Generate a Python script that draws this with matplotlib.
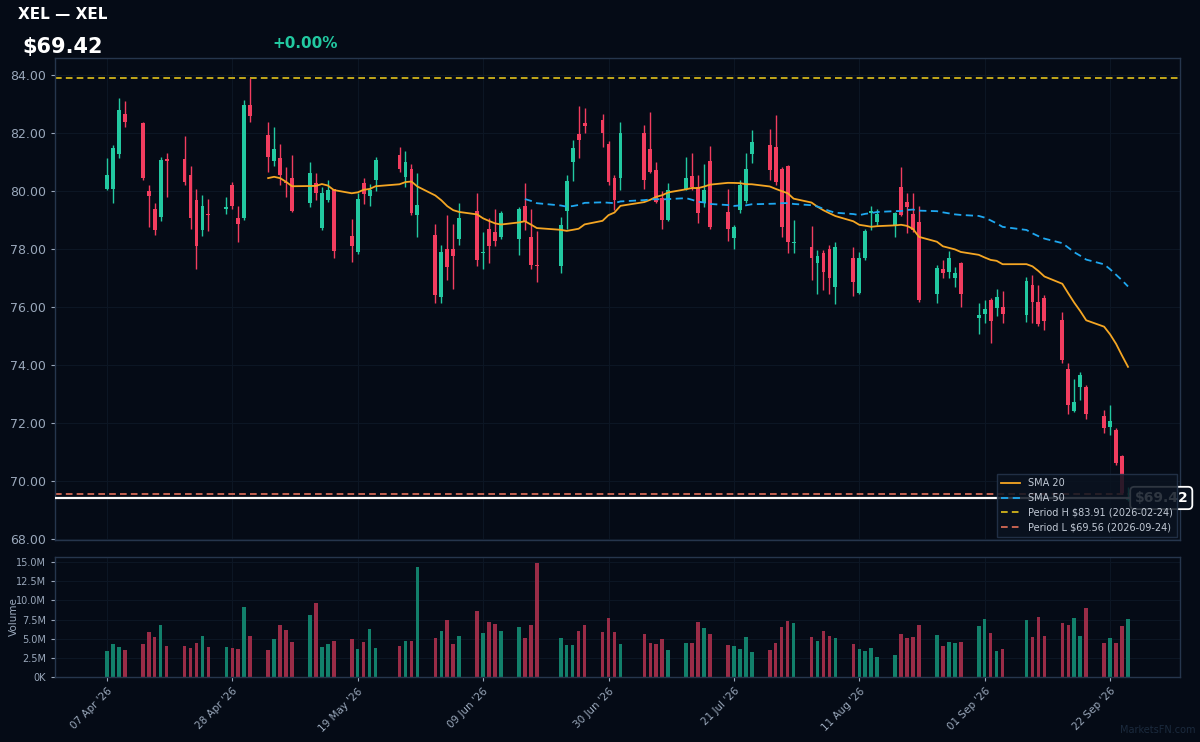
import matplotlib
matplotlib.use('Agg')
import matplotlib.pyplot as plt
import matplotlib.dates as mdates
import matplotlib.transforms as mtransforms
from matplotlib.ticker import FuncFormatter, MultipleLocator
import numpy as np
import pandas as pd

# ---------------- data ----------------
ticker = "XEL"
dates = [
    "2026-04-07", "2026-04-08", "2026-04-09", "2026-04-10",
    "2026-04-13", "2026-04-14", "2026-04-15", "2026-04-16", "2026-04-17",
    "2026-04-20", "2026-04-21", "2026-04-22", "2026-04-23", "2026-04-24",
    "2026-04-27", "2026-04-28", "2026-04-29", "2026-04-30", "2026-05-01",
    "2026-05-04", "2026-05-05", "2026-05-06", "2026-05-07", "2026-05-08",
    "2026-05-11", "2026-05-12", "2026-05-13", "2026-05-14", "2026-05-15",
    "2026-05-18", "2026-05-19", "2026-05-20", "2026-05-21", "2026-05-22",
    "2026-05-26", "2026-05-27", "2026-05-28", "2026-05-29",
    "2026-06-01", "2026-06-02", "2026-06-03", "2026-06-04", "2026-06-05",
    "2026-06-08", "2026-06-09", "2026-06-10", "2026-06-11", "2026-06-12",
    "2026-06-15", "2026-06-16", "2026-06-17", "2026-06-18",
    "2026-06-22", "2026-06-23", "2026-06-24", "2026-06-25", "2026-06-26",
    "2026-06-29", "2026-06-30", "2026-07-01", "2026-07-02",
    "2026-07-06", "2026-07-07", "2026-07-08", "2026-07-09", "2026-07-10",
    "2026-07-13", "2026-07-14", "2026-07-15", "2026-07-16", "2026-07-17",
    "2026-07-20", "2026-07-21", "2026-07-22", "2026-07-23", "2026-07-24",
    "2026-07-27", "2026-07-28", "2026-07-29", "2026-07-30", "2026-07-31",
    "2026-08-03", "2026-08-04", "2026-08-05", "2026-08-06", "2026-08-07",
    "2026-08-10", "2026-08-11", "2026-08-12", "2026-08-13", "2026-08-14",
    "2026-08-17", "2026-08-18", "2026-08-19", "2026-08-20", "2026-08-21",
    "2026-08-24", "2026-08-25", "2026-08-26", "2026-08-27", "2026-08-28",
    "2026-08-31", "2026-09-01", "2026-09-02", "2026-09-03", "2026-09-04",
    "2026-09-08", "2026-09-09", "2026-09-10", "2026-09-11",
    "2026-09-14", "2026-09-15", "2026-09-16", "2026-09-17", "2026-09-18",
    "2026-09-21", "2026-09-22", "2026-09-23", "2026-09-24", "2026-09-25",
]
opens = [
    80.09, 80.07, 81.27, 82.66,
    82.36, 80.00, 79.40, 79.11, 81.12,
    81.10, 80.55, 79.71, 78.66, 79.21,
    79.38, 80.21, 79.09, 79.09, 82.97,
    81.95, 81.03, 81.15, 80.32, 80.47,
    79.58, 80.29, 78.73, 79.69, 80.06,
    78.46, 77.89, 80.27, 79.83, 80.38,
    81.24, 80.49, 80.78, 79.17,
    78.48, 76.36, 78.00, 78.00, 78.34,
    79.31, 77.86, 78.71, 78.58, 78.42,
    78.34, 79.48, 78.42, 77.47,
    77.42, 79.32, 81.01, 81.97, 82.36,
    82.45, 81.64, 80.46, 80.44,
    81.99, 81.47, 80.72, 79.75, 79.02,
    80.09, 80.52, 80.15, 79.58, 81.04,
    79.27, 78.40, 79.34, 79.67, 81.28,
    81.59, 81.51, 80.76, 80.86, 78.20,
    78.08, 77.53, 77.85, 78.00, 76.70,
    77.70, 76.49, 77.68, 79.25, 78.94,
    78.79, 80.13, 79.63, 79.20, 78.94,
    76.45, 77.33, 77.22, 77.02, 77.53,
    75.61, 75.78, 76.24, 75.96, 76.01,
    75.72, 76.78, 76.18, 76.30,
    75.55, 73.85, 72.41, 73.25, 73.25,
    72.24, 71.87, 71.78, 70.86, 69.35,
]
highs = [
    81.13, 81.60, 83.22, 83.10,
    82.40, 80.20, 79.60, 81.16, 81.30,
    81.90, 80.87, 80.09, 79.86, 79.72,
    79.80, 80.32, 79.49, 83.14, 83.91,
    82.39, 82.20, 81.64, 80.84, 81.24,
    81.01, 80.61, 80.13, 80.38, 80.09,
    79.03, 79.95, 80.47, 80.23, 81.18,
    81.53, 81.38, 80.93, 80.61,
    78.85, 78.14, 79.17, 78.85, 79.58,
    79.92, 78.58, 79.06, 79.37, 79.32,
    79.44, 80.29, 79.37, 78.63,
    79.11, 80.55, 81.78, 82.94, 82.85,
    82.66, 81.73, 80.55, 82.37,
    82.28, 82.74, 81.01, 80.00, 80.29,
    81.18, 81.33, 80.55, 80.93, 81.56,
    80.07, 78.83, 80.40, 81.30, 82.10,
    82.13, 82.62, 80.84, 80.90, 79.00,
    78.79, 77.97, 77.97, 78.14, 78.25,
    78.08, 77.91, 78.68, 79.48, 79.40,
    79.29, 80.84, 79.94, 79.94, 79.48,
    77.47, 77.64, 77.93, 77.39, 77.56,
    76.16, 76.24, 76.30, 76.64, 76.56,
    77.04, 77.10, 76.78, 76.41,
    75.84, 74.06, 73.51, 73.77, 73.31,
    72.45, 72.62, 71.82, 70.90, 69.80,
]
lows = [
    80.05, 79.60, 81.13, 82.20,
    80.40, 78.77, 78.50, 78.98, 79.80,
    80.20, 78.71, 77.33, 78.46, 78.63,
    79.20, 79.38, 78.23, 79.00, 82.39,
    80.67, 80.86, 80.21, 79.80, 79.27,
    79.44, 79.69, 78.66, 79.63, 77.68,
    77.54, 77.83, 79.55, 79.49, 80.01,
    80.67, 80.15, 79.17, 78.42,
    76.16, 76.16, 76.93, 76.62, 78.14,
    77.41, 77.31, 77.51, 78.11, 78.34,
    77.79, 78.66, 77.33, 76.87,
    77.18, 78.71, 80.36, 81.13, 81.99,
    81.51, 80.21, 79.34, 80.03,
    80.06, 80.61, 79.58, 78.68, 78.98,
    80.03, 80.03, 78.91, 79.44, 78.71,
    78.29, 77.99, 79.25, 79.60, 80.98,
    80.38, 80.21, 78.42, 77.87, 77.87,
    76.93, 76.47, 76.59, 76.44, 76.10,
    76.38, 76.47, 77.64, 78.66, 78.83,
    78.42, 79.14, 78.54, 78.60, 76.18,
    76.13, 76.99, 77.02, 76.68, 75.99,
    75.09, 75.46, 74.75, 75.69, 75.46,
    75.49, 75.46, 75.34, 75.21,
    74.06, 72.31, 72.39, 72.79, 72.16,
    71.67, 71.59, 70.55, 69.56, 69.30,
]
closes = [
    80.55, 81.49, 82.79, 82.39,
    80.44, 79.84, 78.66, 81.07, 81.05,
    80.32, 79.09, 78.11, 79.49, 79.17,
    79.44, 79.49, 78.85, 82.97, 82.60,
    81.18, 81.45, 80.55, 80.28, 79.32,
    80.61, 79.92, 79.94, 80.03, 77.94,
    78.10, 79.72, 79.89, 80.03, 81.09,
    80.78, 81.01, 79.23, 79.52,
    76.41, 77.89, 77.39, 77.77, 79.06,
    77.62, 77.90, 78.11, 78.29, 79.23,
    79.38, 78.94, 77.45, 77.43,
    78.83, 80.36, 81.49, 81.76, 82.24,
    81.99, 80.32, 79.69, 81.99,
    80.38, 80.67, 79.63, 79.02, 80.03,
    80.47, 80.13, 79.25, 80.03, 78.77,
    78.68, 78.77, 80.21, 80.78, 81.70,
    80.72, 80.32, 78.77, 78.25, 78.24,
    77.70, 77.76, 77.20, 76.99, 78.08,
    76.87, 77.68, 78.63, 79.30, 79.20,
    79.23, 79.17, 79.44, 78.66, 76.26,
    77.36, 77.18, 77.70, 77.18, 76.47,
    75.72, 75.92, 75.53, 76.36, 75.75,
    76.90, 76.18, 75.41, 75.52,
    74.17, 72.62, 72.74, 73.66, 72.31,
    71.85, 72.07, 70.63, 69.60, 69.42,
]
volumes_m = [
    3.39, 4.25, 3.95, 3.52,
    4.34, 5.84, 5.24, 6.75, 4.04,
    4.00, 3.82, 4.47, 5.33, 3.95,
    3.87, 3.82, 3.70, 9.11, 5.37,
    3.57, 4.94, 6.75, 6.19, 4.51,
    8.12, 9.63, 3.91, 4.25, 4.73,
    4.94, 3.65, 4.56, 6.23, 3.78,
    4.08, 4.73, 4.73, 14.35,
    5.07, 6.06, 7.43, 4.25, 5.29,
    8.55, 5.72, 7.13, 6.96, 5.97,
    6.53, 5.07, 6.75, 14.91,
    5.11, 4.21, 4.17, 6.06, 6.79,
    5.89, 7.65, 5.84, 4.25,
    5.59, 4.47, 4.34, 4.94, 3.52,
    4.47, 4.47, 7.13, 6.36, 5.59,
    4.17, 4.00, 3.65, 5.16, 3.22,
    3.48, 4.43, 6.49, 7.26, 7.00,
    5.20, 4.68, 5.97, 5.37, 5.11,
    4.34, 3.70, 3.44, 3.82, 2.62,
    2.84, 5.67, 5.03, 5.24, 6.75,
    5.50, 4.00, 4.56, 4.43, 4.56,
    6.70, 7.56, 5.72, 3.44, 3.65,
    7.48, 5.20, 7.86, 5.37,
    7.05, 6.79, 7.69, 5.33, 9.02,
    4.43, 5.03, 4.43, 6.62, 7.52,
]
tick_dates = ["2026-04-07", "2026-04-28", "2026-05-19", "2026-06-09", "2026-06-30",
              "2026-07-21", "2026-08-11", "2026-09-01", "2026-09-22"]
price_ticks = [68, 70, 72, 74, 76, 78, 80, 82, 84]
period_high = 83.91
period_high_date = "2026-02-24"
period_low = 69.56
period_low_date = "2026-09-24"
last_price = 69.42
change_pct = 0.00

# ---------------- style ----------------
BG = '#050b16'
UP = '#22c9a1'
DOWN = '#f23d5f'
VUP = '#12806b'
VDOWN = '#9a2c47'
SPINE = '#26364d'
TICK = '#9aa8bb'
GRID = '#0c1624'

x = mdates.date2num(pd.to_datetime(dates))
o = np.array(opens); h = np.array(highs); l = np.array(lows); c = np.array(closes)
v = np.array(volumes_m) * 1e6
up = c >= o
colors = np.where(up, UP, DOWN)
vcolors = np.where(up, VUP, VDOWN)

sma20 = pd.Series(closes).rolling(20).mean()
sma50 = pd.Series(closes).rolling(50).mean()

fig = plt.figure(figsize=(12, 7.42), dpi=100, facecolor=BG)
ax = fig.add_axes([0.0458, 0.2722, 0.9375, 0.6496])
axv = fig.add_axes([0.0458, 0.0876, 0.9375, 0.1617], sharex=ax)

for a in (ax, axv):
    a.set_facecolor(BG)
    for s in a.spines.values():
        s.set_color(SPINE)
        s.set_linewidth(1.0)
    a.grid(True, color=GRID, lw=0.8)
    a.set_axisbelow(True)

# candles
ax.vlines(x, l, h, colors=colors, lw=1.0, zorder=2)
body_h = np.maximum(np.abs(c - o), 0.04)
ax.bar(x, body_h, bottom=np.minimum(o, c), width=0.65, color=colors, zorder=3, linewidth=0)

ax.plot(x, sma20, color='#f5a623', lw=1.3, zorder=4, label='SMA 20')
ax.plot(x, sma50, color='#1ea7f0', lw=1.3, ls=(0, (4, 2.5)), zorder=4, label='SMA 50')
ax.axhline(period_high, color='#e3c21b', lw=1.2, ls=(0, (4, 2.5)), zorder=1,
           label=f'Period H ${period_high:.2f} ({period_high_date})')
ax.axhline(period_low, color='#e4705a', lw=1.2, ls=(0, (4, 2.5)), zorder=1,
           label=f'Period L ${period_low:.2f} ({period_low_date})')
ax.axhline(last_price, color='white', lw=1.6, zorder=4)

ax.set_ylim(67.97, 84.59)
ax.set_yticks(price_ticks)
ax.yaxis.set_major_formatter(FuncFormatter(lambda val, p: f'{val:.2f}'))
ax.set_xlim(x[0] - 8.7, x[-1] + 8.7)
ax.tick_params(axis='x', labelbottom=False, length=0)
ax.tick_params(axis='y', colors=TICK, labelsize=9, length=3)

# price label
trans = mtransforms.blended_transform_factory(ax.transAxes, ax.transData)
ax.text(0.9595, last_price, f'${last_price:.2f}', transform=trans, ha='left', va='center',
        fontsize=10, fontweight='bold', color='white', zorder=6, clip_on=False,
        bbox=dict(boxstyle='round,pad=0.3', fc='#0a1220', ec='white', lw=1.3))

leg = ax.legend(loc='lower right', fontsize=7, frameon=True, facecolor='#0a1320',
                edgecolor=SPINE, framealpha=0.85, labelcolor='#c2cad6',
                borderaxespad=0.35, handlelength=2.0, fancybox=False)
leg.set_zorder(10)

# volume
axv.bar(x, v, width=0.6, color=vcolors, linewidth=0, zorder=2)
axv.set_ylim(0, 15.65e6)
axv.yaxis.set_major_locator(MultipleLocator(2.5e6))
axv.yaxis.set_major_formatter(FuncFormatter(lambda val, p: '0K' if val == 0 else f'{val/1e6:.1f}M'))
axv.set_ylabel('Volume', color=TICK, fontsize=7.5)
axv.yaxis.set_label_coords(-0.032, 0.5)
axv.tick_params(axis='y', colors=TICK, labelsize=7, length=3)
axv.set_xticks(mdates.date2num(pd.to_datetime(tick_dates)))
axv.xaxis.set_major_formatter(mdates.DateFormatter("%d %b '%y"))
axv.tick_params(axis='x', colors=TICK, labelsize=7.5, length=3)
for lab in axv.get_xticklabels():
    lab.set_rotation(45)
    lab.set_ha('right')
    lab.set_rotation_mode('anchor')

# header
fig.text(0.015, 0.981, f'{ticker} — {ticker}', color='white', fontsize=11, fontweight='bold',
         ha='left', va='center')
fig.text(0.019, 0.937, f'${last_price:.2f}', color='white', fontsize=15, fontweight='bold',
         ha='left', va='center')
fig.text(0.227, 0.941, f'+{change_pct:.2f}%', color='#22c9a1', fontsize=11, fontweight='bold',
         ha='left', va='center')
fig.text(0.996, 0.016, 'MarketsFN.com', color='#1b2a3d', fontsize=7, ha='right', va='center')

fig.savefig('out.png', dpi=100, facecolor=BG)
